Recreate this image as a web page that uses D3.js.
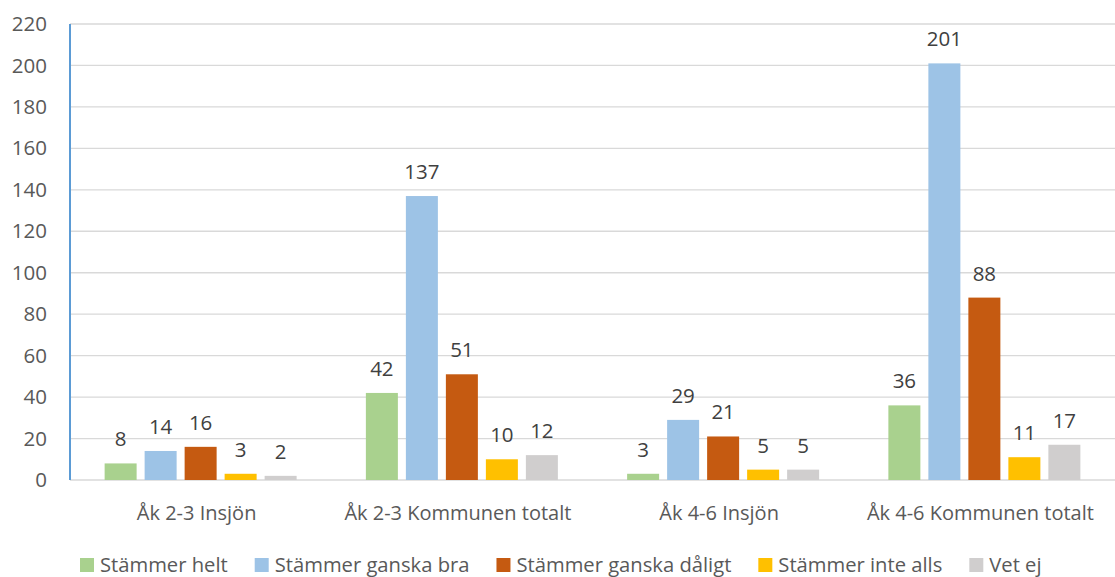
<!DOCTYPE html>
<html>
<head>
<meta charset="utf-8">
<script src="https://cdn.jsdelivr.net/npm/d3@7"></script>
<style>
  body { margin: 0; background: #fff; }
  svg { font-family: "Open Sans", "Liberation Sans", sans-serif; }
</style>
</head>
<body>
<div id="chart"></div>
<script>
// chart data
let categories = ["Åk 2-3 Insjön", "Åk 2-3 Kommunen totalt", "Åk 4-6 Insjön", "Åk 4-6 Kommunen totalt"];
let seriesNames = ["Stämmer helt", "Stämmer ganska bra", "Stämmer ganska dåligt", "Stämmer inte alls", "Vet ej"];
let stammerHelt = [8, 42, 3, 36];
let stammerGanskaBra = [14, 137, 29, 201];
let stammerGanskaDaligt = [16, 51, 21, 88];
let stammerInteAlls = [3, 10, 5, 11];
let vetEj = [2, 12, 5, 17];
let yTicks = [0, 20, 40, 60, 80, 100, 120, 140, 160, 180, 200, 220];
let colors = ["#A9D18E", "#9DC3E6", "#C55A11", "#FFC000", "#D0CECE"];

let seriesValues = [stammerHelt, stammerGanskaBra, stammerGanskaDaligt, stammerInteAlls, vetEj];

let svgWidth = 1115;
let svgHeight = 577;
let margin = { top: 24, right: 0, bottom: 97, left: 70 };
let width = svgWidth - margin.left - margin.right;
let height = svgHeight - margin.top - margin.bottom; // 456

let svg = d3.select("#chart")
  .append("svg")
  .attr("width", svgWidth)
  .attr("height", svgHeight);

let chartGroup = svg.append("g")
  .attr("transform", `translate(${margin.left}, ${margin.top})`);

let x0 = d3.scaleBand()
  .domain(categories)
  .range([0, width]);

let groupWidth = 192;
let x1 = d3.scaleBand()
  .domain(seriesNames)
  .range([0, groupWidth])
  .paddingInner(0.2)
  .paddingOuter(0);

let y = d3.scaleLinear()
  .domain([0, 220])
  .range([height, 0]);

// gridlines
chartGroup.append("g")
  .selectAll("line")
  .data(yTicks)
  .enter()
  .append("line")
  .attr("x1", 0)
  .attr("x2", width)
  .attr("y1", d => y(d))
  .attr("y2", d => y(d))
  .attr("stroke", "#d9d9d9")
  .attr("stroke-width", 1.3);

// y axis labels
let leftAxis = d3.axisLeft(y).tickValues(yTicks).tickSize(0).tickPadding(23);
let yAxis = chartGroup.append("g").call(leftAxis);
yAxis.select(".domain").remove();
yAxis.selectAll("text")
  .style("font-family", "Open Sans")
  .style("font-size", "20.5px")
  .style("fill", "#595959");

// bars
let rows = [];
categories.forEach((c, i) => {
  seriesNames.forEach((s, j) => {
    rows.push({ cat: c, series: s, value: seriesValues[j][i], color: colors[j] });
  });
});

let offset = (x0.bandwidth() - groupWidth) / 2;

chartGroup.selectAll("rect.bar")
  .data(rows)
  .enter()
  .append("rect")
  .attr("class", "bar")
  .attr("x", d => x0(d.cat) + offset + x1(d.series))
  .attr("y", d => y(d.value))
  .attr("width", x1.bandwidth())
  .attr("height", d => height - y(d.value))
  .attr("fill", d => d.color);

// data labels
chartGroup.selectAll("text.label")
  .data(rows)
  .enter()
  .append("text")
  .attr("class", "label")
  .attr("x", d => x0(d.cat) + offset + x1(d.series) + x1.bandwidth() / 2)
  .attr("y", d => y(d.value) - 17)
  .style("font-size", "20.5px")
  .style("text-anchor", "middle")
  .style("fill", "#404040")
  .text(d => d.value);

// y axis line
chartGroup.append("line")
  .attr("x1", 0).attr("x2", 0)
  .attr("y1", 0).attr("y2", height)
  .attr("stroke", "#5B9BD5")
  .attr("stroke-width", 2);

// category labels
chartGroup.selectAll("text.cat")
  .data(categories)
  .enter()
  .append("text")
  .attr("class", "cat")
  .attr("x", d => x0(d) + x0.bandwidth() / 2 - 4)
  .attr("y", height + 40)
  .style("font-size", "20px")
  .style("text-anchor", "middle")
  .style("fill", "#595959")
  .text(d => d);

// legend
let legend = svg.append("g");
let items = legend.selectAll("g")
  .data(seriesNames)
  .enter()
  .append("g");

items.append("rect")
  .attr("width", 14)
  .attr("height", 14)
  .attr("y", 558)
  .attr("fill", (d, i) => colors[i]);

items.append("text")
  .attr("x", 20)
  .attr("y", 572)
  .style("font-size", "20.2px")
  .style("fill", "#595959")
  .text(d => d);

let gap = 27;
let pos = 0;
let widths = [];
items.each(function () {
  widths.push(20 + d3.select(this).select("text").node().getComputedTextLength());
});
let total = d3.sum(widths) + gap * (widths.length - 1);
let start = 80;
items.attr("transform", (d, i) => {
  let t = `translate(${start + pos}, 0)`;
  pos += widths[i] + gap;
  return t;
});
</script>
</body>
</html>
